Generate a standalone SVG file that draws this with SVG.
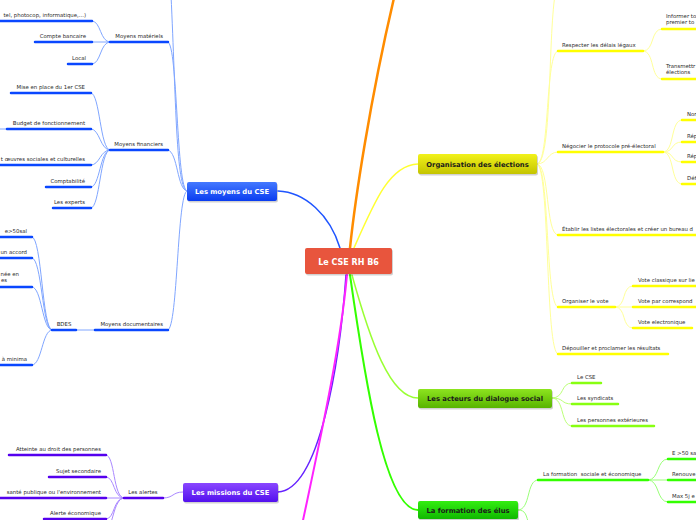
<svg xmlns="http://www.w3.org/2000/svg" width="696" height="520" viewBox="0 0 696 520">
<defs>
<linearGradient id="gb" x1="0" y1="0" x2="0" y2="1"><stop offset="0" stop-color="#4479ff"/><stop offset="1" stop-color="#0a3cf0"/></linearGradient>
<linearGradient id="gy" x1="0" y1="0" x2="0" y2="1"><stop offset="0" stop-color="#f2f21a"/><stop offset="1" stop-color="#c4c400"/></linearGradient>
<linearGradient id="gl" x1="0" y1="0" x2="0" y2="1"><stop offset="0" stop-color="#8de41f"/><stop offset="1" stop-color="#58b400"/></linearGradient>
<linearGradient id="gg" x1="0" y1="0" x2="0" y2="1"><stop offset="0" stop-color="#33ee11"/><stop offset="1" stop-color="#10b800"/></linearGradient>
<linearGradient id="gp" x1="0" y1="0" x2="0" y2="1"><stop offset="0" stop-color="#8a47ff"/><stop offset="1" stop-color="#5210ee"/></linearGradient>
</defs>
<style>
.t{font-family:"DejaVu Sans",Verdana,sans-serif;font-size:5.4px;fill:#2a2a2a;white-space:pre}
.e{text-anchor:end}
.m{text-anchor:middle}
.n{font-family:"DejaVu Sans",Verdana,sans-serif;font-weight:bold;font-size:6.8px;text-anchor:middle}
.w{fill:#fff}
.k{fill:#1a1a1a}
.sh{fill:#000;opacity:0.18}
path,line{fill:none;stroke-linecap:round}
.ub{stroke:#0a47ff;stroke-width:2.5}
.cb{stroke:#80a6ff;stroke-width:1}
.uy{stroke:#ffff00;stroke-width:2.5}
.cy{stroke:#ffff99;stroke-width:1}
.ul{stroke:#88ff11;stroke-width:2.5}
.cl{stroke:#bbff77;stroke-width:1}
.ug{stroke:#33ff00;stroke-width:2.5}
.cg{stroke:#99ff77;stroke-width:1}
.up{stroke:#5500ee;stroke-width:2.5}
.cp{stroke:#aa88ff;stroke-width:1}
</style>
<rect width="696" height="520" fill="#fff"/>

<g id="connectors">
<!-- main -->
<path d="M340,248 C330,215 305,192 278,191" stroke="#1f55ff" stroke-width="1.5"/>
<path d="M350,248 C355,200 370,100 394,-2" stroke="#ff8c00" stroke-width="2.5"/>
<path d="M354,248 C375,200 390,165 418,164" stroke="#ffff33" stroke-width="1.5"/>
<path d="M346,275 C340,360 320,490 278,492" stroke="#6622ff" stroke-width="1.5"/>
<path d="M347,275 C340,350 320,440 302,525" stroke="#ff22ff" stroke-width="2"/>
<path d="M352,275 C370,340 390,398 418,398" stroke="#99ff33" stroke-width="1.5"/>
<path d="M350,275 C365,380 385,510 418,510" stroke="#33ff00" stroke-width="2"/>
<!-- blue -->
<path class="cb" d="M187,191 C176,190 176,100 171,-5"/>
<path class="cb" d="M187,191 C176,190 178,44 168,42"/>
<path class="cb" d="M187,191 C177,190 178,152 168,150"/>
<path class="cb" d="M187,191 C177,192 178,328 168,330"/>
<path class="cb" d="M110,42 C100,42 101,21 92,21"/>
<path class="cb" d="M110,42 L92,42"/>
<path class="cb" d="M110,42 C100,42 101,64 92,64"/>
<path class="cb" d="M110,150 C100,150 100,93 91,93"/>
<path class="cb" d="M110,150 C100,150 100,129 91,129"/>
<path class="cb" d="M110,150 C100,150 100,165 91,165"/>
<path class="cb" d="M110,150 C100,150 100,187 91,187"/>
<path class="cb" d="M110,150 C100,150 100,208 91,208"/>
<path class="cb" d="M7,129 L-5,129"/>
<path class="cb" d="M95,330 L76,330"/>
<path class="cb" d="M52,330 C42,330 42,237 32,237"/>
<path class="cb" d="M52,330 C42,330 42,258 32,258"/>
<path class="cb" d="M52,330 C42,330 42,287 32,287"/>
<path class="cb" d="M52,330 C42,330 42,365 32,365"/>
<!-- yellow -->
<path class="cy" d="M537,164 C552,164 548,40 555,-5"/>
<path class="cy" d="M537,164 C550,164 545,51 558,51"/>
<path class="cy" d="M537,164 C548,164 547,152 558,152"/>
<path class="cy" d="M537,164 C550,164 545,235 558,235"/>
<path class="cy" d="M537,164 C550,164 545,307 558,307"/>
<path class="cy" d="M537,164 C550,164 545,354 558,354"/>
<path class="cy" d="M643,51 C655,51 650,29 662,29"/>
<path class="cy" d="M643,51 C655,51 650,79 662,79"/>
<path class="cy" d="M663,152 C675,152 670,120 682,120"/>
<path class="cy" d="M663,152 C675,152 670,142 682,142"/>
<path class="cy" d="M663,152 C675,152 670,162 682,162"/>
<path class="cy" d="M663,152 C675,152 670,184 682,184"/>
<path class="cy" d="M615,307 C627,307 621,286 633,286"/>
<path class="cy" d="M615,307 L633,307"/>
<path class="cy" d="M615,307 C627,307 621,328 633,328"/>
<!-- lime -->
<path class="cl" d="M552,398 C565,398 560,383 572,383"/>
<path class="cl" d="M552,398 C565,398 560,404 572,404"/>
<path class="cl" d="M552,398 C565,398 560,426 572,426"/>
<!-- green -->
<path class="cg" d="M518,510 C531,510 526,480 538,480"/>
<path class="cg" d="M518,510 C526,510 526,515 529,525"/>
<path class="cg" d="M648,480 C660,480 656,459 668,459"/>
<path class="cg" d="M648,480 L668,480"/>
<path class="cg" d="M648,480 C660,480 656,502 668,502"/>
<!-- purple -->
<path class="cp" d="M183,492 C172,492 174,498 163,498"/>
<path class="cp" d="M124,498 C113,498 115,455 106,455"/>
<path class="cp" d="M124,498 C113,498 115,477 106,477"/>
<path class="cp" d="M124,498 L106,498"/>
<path class="cp" d="M124,498 C113,498 115,519 106,519"/>
<path class="cp" d="M124,498 C113,498 113,530 106,530"/>
</g>

<g id="root">
<rect class="sh" x="306" y="249.5" width="87" height="26" rx="2"/>
<rect x="305" y="248" width="87" height="26" rx="2" fill="#e8553d"/>
<text class="n w" x="348.5" y="264.5" style="font-size:8px">Le CSE RH B6</text>
</g>

<g id="moyens">
<rect class="sh" x="188" y="183.5" width="90" height="19" rx="2"/>
<rect x="187" y="182" width="90" height="19" rx="2" fill="url(#gb)"/>
<text class="n w" x="232" y="194">Les moyens du CSE</text>
<g id="moyens-materiels"><line class="ub" x1="110" y1="42" x2="168" y2="42"/><text class="t e" x="163" y="38">Moyens matériels</text></g>
<g id="mm1"><line class="ub" x1="-2" y1="21" x2="92" y2="21"/><text class="t e" x="86" y="17">tel, photocop, informatique,...)</text></g>
<g id="mm2"><line class="ub" x1="35" y1="42" x2="92" y2="42"/><text class="t e" x="86" y="38">Compte bancaire</text></g>
<g id="mm3"><line class="ub" x1="68" y1="64" x2="92" y2="64"/><text class="t e" x="86" y="60">Local</text></g>
<g id="moyens-financiers"><line class="ub" x1="110" y1="150" x2="168" y2="150"/><text class="t e" x="163" y="146">Moyens financiers</text></g>
<g id="mf1"><line class="ub" x1="11" y1="93" x2="91" y2="93"/><text class="t e" x="85" y="89">Mise en place du 1er CSE</text></g>
<g id="mf2"><line class="ub" x1="7" y1="129" x2="91" y2="129"/><text class="t e" x="85" y="125">Budget de fonctionnement</text></g>
<g id="mf3"><line class="ub" x1="-2" y1="165" x2="91" y2="165"/><text class="t e" x="85" y="161">t œuvres sociales et culturelles</text></g>
<g id="mf4"><line class="ub" x1="46" y1="187" x2="91" y2="187"/><text class="t e" x="85" y="183">Comptabilité</text></g>
<g id="mf5"><line class="ub" x1="53" y1="208" x2="91" y2="208"/><text class="t e" x="85" y="204">Les experts</text></g>
<g id="moyens-doc"><line class="ub" x1="95" y1="330" x2="168" y2="330"/><text class="t e" x="163" y="326">Moyens documentaires</text></g>
<g id="bdes"><line class="ub" x1="52" y1="330" x2="76" y2="330"/><text class="t m" x="64" y="326">BDES</text></g>
<g id="b1"><line class="ub" x1="-2" y1="237" x2="32" y2="237"/><text class="t e" x="27" y="233">e&gt;50sal</text></g>
<g id="b2"><line class="ub" x1="-2" y1="258" x2="32" y2="258"/><text class="t e" x="27" y="254">un accord</text></g>
<g id="b3"><line class="ub" x1="-2" y1="287" x2="32" y2="287"/><text class="t e" x="19" y="276">née en</text><text class="t e" x="7" y="282">es</text></g>
<g id="b4"><line class="ub" x1="-2" y1="365" x2="32" y2="365"/><text class="t e" x="27" y="361">à minima</text></g>
</g>

<g id="organisation">
<rect class="sh" x="419" y="155.5" width="119" height="20" rx="2"/>
<rect x="418" y="154" width="119" height="20" rx="2" fill="url(#gy)"/>
<text class="n k" x="477.5" y="166.5">Organisation des élections</text>
<g id="o1"><line class="uy" x1="558" y1="51" x2="643" y2="51"/><text class="t" x="562" y="47">Respecter les délais légaux</text></g>
<g id="o1a"><line class="uy" x1="662" y1="29" x2="698" y2="29"/><text class="t" x="666" y="17.5">Informer to</text><text class="t" x="666" y="24">premier to</text></g>
<g id="o1b"><line class="uy" x1="662" y1="79" x2="698" y2="79"/><text class="t" x="666" y="67.5">Transmettr</text><text class="t" x="666" y="74">élections</text></g>
<g id="o2"><line class="uy" x1="558" y1="152" x2="663" y2="152"/><text class="t" x="562" y="148">Négocier le protocole pré-électoral</text></g>
<g id="o2a"><line class="uy" x1="682" y1="120" x2="698" y2="120"/><text class="t" x="687" y="115.5">Nor</text></g>
<g id="o2b"><line class="uy" x1="682" y1="142" x2="698" y2="142"/><text class="t" x="687" y="137.5">Rép</text></g>
<g id="o2c"><line class="uy" x1="682" y1="162" x2="698" y2="162"/><text class="t" x="687" y="158">Rép</text></g>
<g id="o2d"><line class="uy" x1="682" y1="184" x2="698" y2="184"/><text class="t" x="687" y="179.5">Déf</text></g>
<g id="o3"><line class="uy" x1="558" y1="235" x2="698" y2="235"/><text class="t" x="562" y="231">Établir les listes électorales et créer un bureau d</text></g>
<g id="o4"><line class="uy" x1="558" y1="307" x2="615" y2="307"/><text class="t" x="562" y="303">Organiser le vote</text></g>
<g id="o4a"><line class="uy" x1="633" y1="286" x2="698" y2="286"/><text class="t" x="638" y="282">Vote classique sur lie</text></g>
<g id="o4b"><line class="uy" x1="633" y1="307" x2="698" y2="307"/><text class="t" x="638" y="303">Vote par correspond</text></g>
<g id="o4c"><line class="uy" x1="633" y1="328" x2="692" y2="328"/><text class="t" x="638" y="324">Vote electronique</text></g>
<g id="o5"><line class="uy" x1="558" y1="354" x2="668" y2="354"/><text class="t" x="562" y="350">Dépouiller et proclamer les résultats</text></g>
</g>

<g id="acteurs">
<rect class="sh" x="419" y="390.5" width="134" height="19" rx="2"/>
<rect x="418" y="389" width="134" height="19" rx="2" fill="url(#gl)"/>
<text class="n k" x="485" y="401">Les acteurs du dialogue social</text>
<g id="a1"><line class="ul" x1="572" y1="383" x2="601" y2="383"/><text class="t" x="577" y="379">Le CSE</text></g>
<g id="a2"><line class="ul" x1="572" y1="404" x2="618" y2="404"/><text class="t" x="577" y="400">Les syndicats</text></g>
<g id="a3"><line class="ul" x1="572" y1="426" x2="654" y2="426"/><text class="t" x="577" y="422">Les personnes extérieures</text></g>
</g>

<g id="formation">
<rect class="sh" x="419" y="502.5" width="100" height="18" rx="2"/>
<rect x="418" y="501" width="100" height="18" rx="2" fill="url(#gg)"/>
<text class="n k" x="468" y="512.5">La formation des élus</text>
<g id="f1"><line class="ug" x1="538" y1="480" x2="648" y2="480"/><text class="t" x="543" y="476">La formation  sociale et économique</text></g>
<g id="f1a"><line class="ug" x1="668" y1="459" x2="698" y2="459"/><text class="t" x="672" y="455">E &gt;50 sa</text></g>
<g id="f1b"><line class="ug" x1="668" y1="480" x2="698" y2="480"/><text class="t" x="672" y="476">Renouve</text></g>
<g id="f1c"><line class="ug" x1="668" y1="502" x2="698" y2="502"/><text class="t" x="672" y="498">Max 5j e</text></g>
</g>

<g id="missions">
<rect class="sh" x="184" y="484.5" width="95" height="19" rx="2"/>
<rect x="183" y="483" width="95" height="19" rx="2" fill="url(#gp)"/>
<text class="n w" x="230.5" y="495">Les missions du CSE</text>
<g id="alertes"><line class="up" x1="124" y1="498" x2="163" y2="498"/><text class="t m" x="143" y="494">Les alertes</text></g>
<g id="al1"><line class="up" x1="9" y1="455" x2="106" y2="455"/><text class="t e" x="101" y="451">Atteinte au droit des personnes</text></g>
<g id="al2"><line class="up" x1="49" y1="477" x2="106" y2="477"/><text class="t e" x="101" y="473">Sujet secondaire</text></g>
<g id="al3"><line class="up" x1="-2" y1="498" x2="106" y2="498"/><text class="t e" x="101" y="494">santé publique ou l'environnement</text></g>
<g id="al4"><line class="up" x1="44" y1="519" x2="106" y2="519"/><text class="t e" x="101" y="515">Alerte économique</text></g>
</g>
</svg>
